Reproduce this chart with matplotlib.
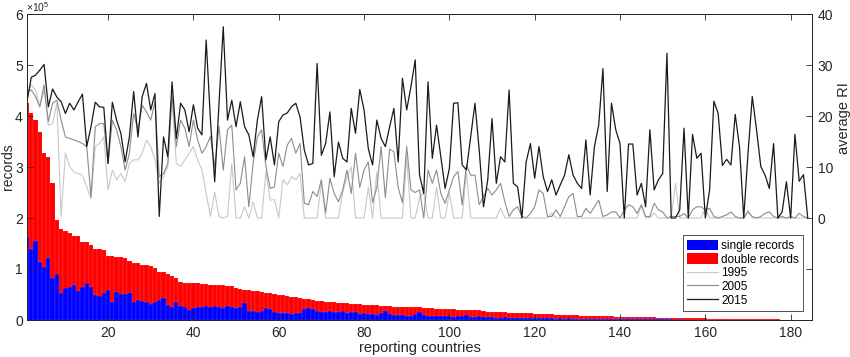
import numpy as np
import matplotlib
matplotlib.use("Agg")
import matplotlib.pyplot as plt
from matplotlib.patches import Patch
from matplotlib.lines import Line2D

plt.rcParams['font.family'] = ['Liberation Sans', 'DejaVu Sans']
plt.rcParams['mathtext.fontset'] = 'custom'
plt.rcParams['mathtext.rm'] = 'Liberation Sans'

# records per reporting country, in units of 1e5 (total = single + double)
total_records = [
    4.25, 4.06, 3.92, 3.69, 3.27, 3.20, 2.68, 1.97, 1.78, 1.75, 1.70, 1.65, 1.65, 1.53, 1.53, 1.47, 1.40, 1.40,
    1.38, 1.26, 1.26, 1.23, 1.23, 1.21, 1.16, 1.11, 1.11, 1.08, 1.08, 1.06, 1.01, 0.95, 0.95, 0.91, 0.86, 0.82,
    0.75, 0.73, 0.72, 0.72, 0.72,
    0.70, 0.70, 0.69, 0.69, 0.68, 0.68, 0.67, 0.66,
    0.62, 0.60, 0.59, 0.58, 0.57, 0.56, 0.55,
    0.53, 0.52, 0.51, 0.50, 0.49,
    0.47, 0.46, 0.45, 0.44, 0.42, 0.41, 0.40,
    0.38, 0.37, 0.36, 0.36, 0.35, 0.34, 0.34, 0.33,
    0.32, 0.31, 0.31, 0.30, 0.30, 0.29, 0.29, 0.28, 0.28,
    0.27, 0.26, 0.26, 0.26, 0.25, 0.25, 0.25, 0.25, 0.24, 0.24, 0.23,
    0.22, 0.22, 0.21, 0.21, 0.21, 0.20, 0.20, 0.20, 0.20, 0.19, 0.19, 0.18,
    0.16, 0.16, 0.15, 0.15, 0.15, 0.14, 0.14, 0.14, 0.13, 0.13, 0.13,
    0.12, 0.12, 0.11, 0.11, 0.11, 0.10, 0.10, 0.10, 0.09, 0.09, 0.09, 0.08, 0.08, 0.08, 0.08, 0.07,
    0.07, 0.07, 0.07, 0.06, 0.06, 0.06, 0.06, 0.06, 0.05, 0.05, 0.05, 0.05, 0.05, 0.04, 0.04,
    0.04, 0.04, 0.04, 0.04, 0.03, 0.03, 0.03, 0.03, 0.03, 0.03, 0.02, 0.02, 0.02, 0.02, 0.02,
    0.02, 0.02, 0.02, 0.01, 0.01, 0.01, 0.01, 0.01, 0.01, 0.01, 0.01, 0.01, 0.005, 0.005, 0.005, 0.005,
    0.003, 0.002, 0.001,
]
single_records = [
    1.63, 1.40, 1.55, 1.14, 1.04, 1.21, 0.82, 0.90, 0.52, 0.62, 0.64, 0.69, 0.57, 0.65, 0.72, 0.64, 0.49, 0.47,
    0.52, 0.59, 0.35, 0.55, 0.51, 0.51, 0.52, 0.36, 0.39, 0.38, 0.36, 0.32, 0.36, 0.40, 0.43, 0.29, 0.25, 0.36,
    0.27, 0.25, 0.19, 0.23, 0.26,
    0.26, 0.27, 0.25, 0.28, 0.26, 0.24, 0.27, 0.25, 0.23,
    0.25, 0.33, 0.18, 0.17, 0.16, 0.18, 0.24, 0.22, 0.15, 0.14,
    0.13, 0.14, 0.12, 0.13, 0.13, 0.22, 0.23, 0.21, 0.18, 0.16,
    0.15, 0.18, 0.16, 0.15, 0.17, 0.14, 0.16, 0.15, 0.12, 0.13,
    0.11, 0.12, 0.10, 0.13, 0.17, 0.12, 0.10, 0.09, 0.10, 0.08,
    0.07, 0.12, 0.16, 0.09, 0.08, 0.07, 0.07, 0.08, 0.07, 0.07,
    0.06, 0.07, 0.07, 0.09, 0.06, 0.06, 0.07, 0.06, 0.05, 0.05,
    0.04, 0.04, 0.05, 0.04, 0.04, 0.03, 0.04, 0.03, 0.03, 0.03,
    0.03, 0.03, 0.04, 0.03, 0.02, 0.03, 0.02, 0.03, 0.02, 0.02, 0.02, 0.02, 0.02, 0.02, 0.02,
    0.02, 0.015, 0.02, 0.015, 0.015, 0.02, 0.015, 0.01, 0.015, 0.01, 0.01, 0.015, 0.01, 0.01, 0.01,
    0.01, 0.01, 0.008, 0.01, 0.008, 0.008, 0.006, 0.006, 0.006, 0.005, 0.005, 0.005, 0.004, 0.004, 0.004,
    0.004, 0.003, 0.003, 0.003, 0.003, 0.002, 0.002, 0.002, 0.002, 0.002, 0.001, 0.001, 0.001, 0.001,
    0.001, 0.001, 0.001, 0.001, 0.0005,
]

# average RI per country
ri_2015 = [
    22.8, 27.6, 28.0, 29.0, 30.1, 21.8, 25.3, 23.7, 22.8, 20.5,
    22.5, 21.2, 22.8, 24.3, 14.0, 17.9, 22.7, 21.8, 21.7, 10.7,
    22.7, 19.2, 16.6, 11.0, 15.9, 24.8, 15.9, 23.8, 26.4, 21.2,
    24.4, 0.3, 15.9, 12.0, 26.7, 15.6, 22.5, 21.2, 16.9, 22.2,
    17.6, 16.3, 34.9, 19.2, 7.1, 22.5, 37.5, 19.2, 23.1, 17.9,
    22.8, 17.9, 16.3, 12.0, 19.2, 23.8, 11.4, 15.9, 10.4, 18.9,
    20.2, 20.6, 21.8, 22.5, 19.8, 13.3, 10.4, 10.7, 30.3, 12.3,
    14.6, 20.8, 8.1, 14.9, 11.7, 11.0, 21.5, 16.6, 25.2, 21.2,
    13.6, 10.4, 19.2, 15.6, 14.0, 17.9, 21.5, 11.0, 27.4, 21.2,
    25.8, 31.0, 8.5, 4.8, 26.7, 11.7, 18.2, 12.0, 5.8, 9.7,
    22.5, 22.6, 10.4, 9.4, 15.9, 22.5, 13.3, 2.2, 7.5, 19.5,
    6.8, 12.0, 11.0, 25.1, 6.8, 6.1, 0.0, 11.0, 14.6, 7.8,
    14.0, 8.1, 5.2, 7.5, 4.5, 6.5, 8.4, 12.4, 8.4, 6.8,
    5.8, 15.3, 4.5, 14.0, 18.2, 29.3, 5.2, 22.5, 17.3, 14.6,
    0.0, 14.5, 14.5, 4.5, 6.8, 2.2, 17.3, 5.5, 7.5, 8.7,
    32.3, 0.0, 0.0, 1.6, 17.6, 0.0, 16.4, 11.7, 12.7, 0.0,
    5.5, 22.9, 20.5, 10.3, 11.5, 10.4, 20.3, 14.0, 0.0, 12.7,
    23.8, 17.3, 10.1, 8.4, 5.8, 14.6, 0.0, 1.2, 7.1, 0.0,
    16.4, 7.2, 8.5, 0.0,
]
ri_2005 = [
    24.8, 25.1, 23.8, 21.8, 26.1, 18.9, 22.5, 23.1, 19.2, 15.9,
    15.6, 15.3, 15.0, 14.6, 14.0, 4.1, 17.9, 18.5, 18.5, 10.7,
    19.2, 17.3, 14.0, 9.4, 12.7, 20.5, 17.3, 22.1, 20.8, 19.2,
    22.8, 8.1, 8.7, 10.7, 24.1, 14.0, 19.2, 17.6, 14.0, 19.2,
    15.3, 12.7, 14.0, 16.0, 10.0, 18.0, 9.4, 17.3, 18.2, 5.5,
    6.8, 12.0, 2.2, 10.7, 15.9, 17.3, 10.1, 5.8, 6.1, 12.7,
    10.1, 14.3, 15.6, 12.7, 14.6, 2.9, 2.6, 5.2, 4.2, 7.5,
    1.0, 7.8, 4.8, 3.2, 5.5, 9.4, 4.8, 12.7, 6.0, 9.4,
    11.0, 3.0, 6.0, 14.0, 4.0, 13.5, 13.0, 6.0, 3.0, 14.0,
    5.5, 5.0, 5.5, 0.0, 9.4, 6.8, 9.4, 4.8, 2.9, 5.5,
    8.1, 9.1, 2.6, 10.4, 8.4, 8.4, 2.6, 4.2, 5.8, 4.5,
    5.5, 6.8, 3.2, 0.3, 1.6, 2.2, 0.3, 0.0, 0.9, 2.2,
    5.5, 4.8, 0.3, 0.3, 1.6, 0.3, 2.2, 4.2, 4.8, 0.3,
    0.3, 1.9, 0.9, 2.2, 3.5, 0.3, 0.6, 1.2, 1.2, 0.0,
    1.5, 2.6, 2.2, 0.9, 2.6, 0.3, 0.3, 2.9, 1.6, 1.2,
    0.0, 0.3, 0.3, 0.3, 0.9, 0.0, 1.6, 2.2, 2.2, 1.6,
    1.9, 0.3, 0.0, 0.3, 0.6, 1.2, 0.3, 0.0, 0.0, 1.2,
    0.3, 0.0, 0.3, 0.9, 1.2, 0.3, 0.0, 0.3, 0.0, 0.3,
    0.0, 0.9, 0.3, 0.0,
]
ri_1995 = [
    24.1, 26.1, 25.1, 21.8, 25.1, 18.2, 18.5, 22.5, 0.3, 12.7,
    10.1, 9.0, 8.7, 8.4, 6.1, 3.8, 14.0, 14.6, 15.9, 5.5,
    9.4, 7.5, 8.7, 7.1, 10.7, 11.4, 11.4, 12.7, 15.3, 14.0,
    11.4, 6.8, 8.1, 10.1, 23.5, 10.7, 10.1, 11.4, 12.7, 14.0,
    11.4, 9.4, 4.8, 0.3, 5.0, 0.3, 0.0, 0.3, 10.7, 0.0,
    0.0, 2.2, 0.0, 3.2, 0.0, 0.0, 9.0, 3.5, 3.6, 0.0,
    7.5, 6.5, 8.1, 7.5, 8.7, 0.0, 0.0, 0.0, 0.0, 7.0,
    0.0, 0.0, 0.0, 0.0, 5.0, 8.0, 10.0, 0.0, 0.0, 0.0,
    6.0, 0.0, 9.0, 0.0, 0.0, 0.0, 0.0, 0.0, 0.0, 12.0,
    0.0, 0.0, 4.0, 5.0, 0.0, 0.0, 6.0, 0.0, 0.0, 5.0,
    0.0, 0.0, 0.0, 9.0, 0.0, 0.0, 0.0, 0.0, 0.0, 0.0,
    0.0, 2.0, 0.0, 0.0, 0.0, 0.0, 0.0, 0.0, 0.0, 0.0,
    0.0, 0.0, 0.0, 1.0, 0.0, 0.0, 0.0, 0.0, 0.0, 0.0,
    0.0, 0.0, 0.0, 0.0, 0.0, 0.0, 0.0, 0.0, 0.0, 0.0,
    0.0, 0.0, 0.0, 0.0, 2.5, 0.0, 0.0, 1.0, 0.0, 0.0,
    0.0, 0.0, 6.8, 0.0, 0.0, 0.0, 0.0, 0.0, 0.0, 2.0,
    0.0, 0.0, 0.0, 0.0, 0.0, 0.0, 0.0, 0.0, 0.0, 1.5,
    0.0, 0.0, 0.0, 0.0, 0.0, 0.0, 0.0, 0.0, 0.0, 0.0,
    0.0, 0.0, 0.0, 0.0,
]

countries = np.arange(1, len(total_records) + 1)
single = np.array(single_records) * 1e5
double = np.array(total_records) * 1e5 - single

axc = '#262626'
fig = plt.figure(figsize=(8.5, 3.57), dpi=100)
ax = fig.add_axes([27 / 850, 1 - 320 / 357, 785 / 850, 306 / 357])

ax.bar(countries, single, width=1.0, color='#0000ff', edgecolor=(1, 1, 1, 0.25), linewidth=0.3)
ax.bar(countries, double, width=1.0, bottom=single, color='#ff0000', edgecolor=(1, 1, 1, 0.25), linewidth=0.3)
ax.set_xlim(1, 185)
ax.set_ylim(0, 6e5)
ax.set_yticks(np.arange(0, 7) * 1e5)
ax.set_yticklabels([str(v) for v in range(7)])
ax.set_xticks(range(20, 181, 20))
ax.set_xlabel('reporting countries', fontsize=10.5, color=axc, labelpad=1)
ax.set_ylabel('records', fontsize=10, color=axc)
ax.yaxis.set_label_coords(-0.0155, 0.5)
ax.annotate(r'$\times\mathregular{10^5}$', xy=(0, 1), xycoords='axes fraction',
            xytext=(-1, 0.3), textcoords='offset points', fontsize=7.5, color=axc, va='bottom')
ax.tick_params(axis='both', direction='in', length=4, width=0.6, colors=axc, labelsize=10, top=True)
ax.tick_params(axis='x', pad=4)
ax.tick_params(axis='y', pad=3)
for s in ax.spines.values():
    s.set_color(axc)
    s.set_linewidth(0.7)

ax2 = ax.twinx()
ax2.plot(countries, ri_1995, color='#c8c8c8', lw=0.8)
ax2.plot(countries, ri_2005, color='#8c8c8c', lw=0.8)
ax2.plot(countries, ri_2015, color='#1a1a1a', lw=0.9)
ax2.set_ylim(-20, 40)
ax2.set_yticks(range(-20, 41, 10))
ax2.set_yticklabels(['', ''] + [str(v) for v in range(0, 41, 10)])
ax2.set_ylabel('average RI', fontsize=10.5, color=axc)
ax2.yaxis.set_label_coords(1.032, 0.66)
ax2.tick_params(axis='y', direction='in', length=4, width=0.6, colors=axc, labelsize=10, pad=4)
for s in ax2.spines.values():
    s.set_color(axc)
    s.set_linewidth(0.7)

handles = [
    Patch(facecolor='#0000ff', edgecolor='none'),
    Patch(facecolor='#ff0000', edgecolor='none'),
    Line2D([0], [0], color='#c8c8c8', lw=0.8),
    Line2D([0], [0], color='#8c8c8c', lw=0.8),
    Line2D([0], [0], color='#1a1a1a', lw=0.9),
]
labels = ['single records', 'double records', '1995', '2005', '2015']
leg = ax2.legend(handles, labels, loc='lower right', bbox_to_anchor=(1 - 9 / 785, 9 / 306),
                 borderaxespad=0, fontsize=8.5, frameon=True, fancybox=False,
                 handlelength=2.6, handleheight=1.0, handletextpad=0.3,
                 labelspacing=0.12, borderpad=0.35)
leg.get_frame().set_edgecolor(axc)
leg.get_frame().set_linewidth(0.7)

fig.savefig('out.png', dpi=100)
